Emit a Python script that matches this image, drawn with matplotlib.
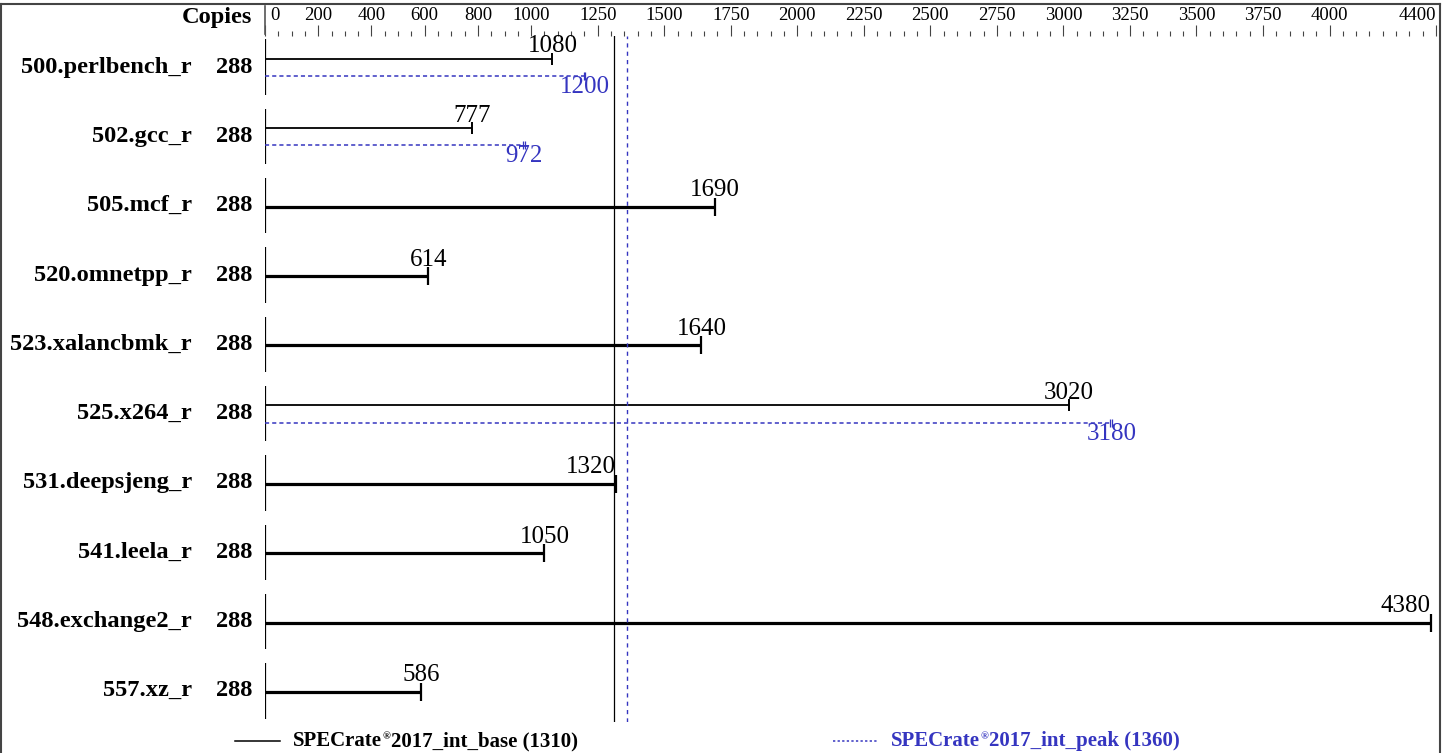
import matplotlib.pyplot as plt
import numpy as np
from matplotlib.lines import Line2D
import matplotlib.transforms as mtrans

plt.rcParams['font.family'] = ['Liberation Serif', 'DejaVu Serif']

# data
benchmarks = ["500.perlbench_r", "502.gcc_r", "505.mcf_r", "520.omnetpp_r",
              "523.xalancbmk_r", "525.x264_r", "531.deepsjeng_r", "541.leela_r",
              "548.exchange2_r", "557.xz_r"]
copies = [288, 288, 288, 288, 288, 288, 288, 288, 288, 288]
base = [1080, 777, 1690, 614, 1640, 3020, 1320, 1050, 4380, 586]
peak = [1200, 972, None, None, None, 3180, None, None, None, None]
base_mean = 1310
peak_mean = 1360
tick_vals = [0, 200, 400, 600, 800, 1000, 1250, 1500, 1750, 2000, 2250, 2500,
             2750, 3000, 3250, 3500, 3750, 4000, 4400]

blue = '#3535c0'
W, H = 1450, 753
fig = plt.figure(figsize=(W / 100, H / 100), dpi=100)

x0, x1 = 265, 1436
y_top, y_bot = 36, 722
ax = fig.add_axes([x0 / W, 1 - y_bot / H, (x1 - x0) / W, (y_bot - y_top) / H])
ax.set_xlim(0, 4400)
ax.set_ylim(9.45, -0.45)
for s in ax.spines.values():
    s.set_visible(False)
ax.set_yticks([])

# top scale
ax.xaxis.tick_top()
ax.set_xticks(tick_vals)
ax.set_xticks(np.arange(0, 4401, 50), minor=True)
ax.set_xticklabels([str(v) for v in tick_vals], fontsize=13.5)
ax.tick_params(axis='x', which='major', length=8, width=0.8, pad=1, color='#444444')
ax.tick_params(axis='x', which='minor', length=3.5, width=0.8, color='#444444')
labs = ax.get_xticklabels()
labs[0].set_ha('left')
labs[0].set_transform(labs[0].get_transform() + mtrans.ScaledTranslation(4 / 72, 0, fig.dpi_scale_trans))
labs[-1].set_ha('right')

def shifted(dx_pt):
    return ax.transData + mtrans.ScaledTranslation(dx_pt / 72, 0, fig.dpi_scale_trans)

for i, name in enumerate(benchmarks):
    ax.vlines(0, i - 0.4, i + 0.4, color='black', lw=1.6)
    ax.text(-73 / 0.2661, i, name, ha='right', va='center', fontsize=17.6, fontweight='bold')
    ax.text(-13 / 0.2661, i, str(copies[i]), ha='right', va='center', fontsize=17.6, fontweight='bold')
    b = base[i]
    p = peak[i]
    ha = 'center'
    if abs(b - base_mean) < 120 or b > 4200:
        ha = 'right'
    if p is None:
        y = i + 0.015
        ax.plot([0, b], [y, y], color='black', lw=2.3, solid_capstyle='butt')
        ax.plot([b], [y], marker='|', ms=13, mew=1.6, color='black')
        ax.annotate(str(b), (b, y), xytext=(0, 4), textcoords='offset points',
                    ha=ha, va='bottom', fontsize=18)
    else:
        yb = i - 0.12
        yp = i + 0.13
        ax.plot([0, b], [yb, yb], color='black', lw=1.3, solid_capstyle='butt')
        ax.plot([b], [yb], marker='|', ms=9, mew=1.4, color='black')
        ax.annotate(str(b), (b, yb), xytext=(0, 1), textcoords='offset points',
                    ha=ha, va='bottom', fontsize=18)
        ax.plot([0, p], [yp, yp], color=blue, lw=1.1, dashes=(2.7, 2))
        for dx in (-0.6, 0.6):
            ax.plot([p], [yp], marker='|', ms=6, mew=0.9, color=blue,
                    linestyle='none', transform=shifted(dx))
        ax.annotate(str(p), (p, yp), xytext=(0, 0), textcoords='offset points',
                    ha='center', va='top', fontsize=18, color=blue)

# mean lines
ax.axvline(base_mean, color='black', lw=0.9)
ax.axvline(peak_mean, color=blue, lw=1.0, dashes=(3, 3))

# header
fig.text(252 / W, 1 - 18 / H, 'Copies', ha='right', va='center', fontsize=17.6, fontweight='bold')
tr = mtrans.blended_transform_factory(ax.transData, fig.transFigure)
fig.add_artist(Line2D([0, 0], [1 - 6 / H, 1 - 34 / H], transform=tr, color='#555555', lw=1.2))

# frame
fig.add_artist(Line2D([1 / W, 1440 / W], [1 - 4 / H, 1 - 4 / H], color='#444444', lw=1.5))
fig.add_artist(Line2D([1 / W, 1 / W], [0, 1 - 4 / H], color='#444444', lw=1.5))
fig.add_artist(Line2D([1440 / W, 1440 / W], [0, 1 - 4 / H], color='#444444', lw=1.5))

# legend
ly = 1 - 741 / H

def legend_text(x, parts, color):
    t = fig.text(x / W, ly, parts[0], ha='left', va='baseline', fontsize=15,
                 fontweight='bold', color=color)
    t.set_va('center')
    ax.annotate('\u00ae', xy=(1, 0.5), xycoords=t, xytext=(0.3, 0), textcoords='offset points',
                ha='left', va='bottom', fontsize=7.5, fontweight='bold', color=color)
    ax.annotate(parts[1], xy=(1, 0.5), xycoords=t, xytext=(6.3, 0), textcoords='offset points',
                ha='left', va='center', fontsize=15, fontweight='bold', color=color)

fig.add_artist(Line2D([235 / W, 280 / W], [ly, ly], color='black', lw=1.1))
fig.add_artist(Line2D([833 / W, 877 / W], [ly, ly], color=blue, lw=1.1, dashes=(1.5, 1.5)))
legend_text(293, ['SPECrate', '2017_int_base (1310)'], 'black')
legend_text(891, ['SPECrate', '2017_int_peak (1360)'], blue)

fig.savefig('out.png', dpi=100)
